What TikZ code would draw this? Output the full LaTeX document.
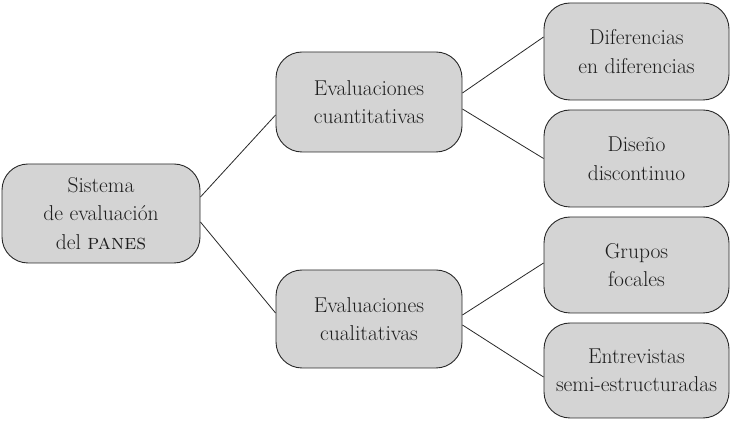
\documentclass[tikz,border=0pt]{standalone}
\usepackage{fontspec}
\usepackage{xcolor}
\definecolor{boxfill}{RGB}{212,212,212}
\definecolor{boxline}{RGB}{40,40,40}
\definecolor{txt}{RGB}{30,30,30}
\begin{document}
\begin{tikzpicture}[x=1pt,y=1pt,
  box/.style={draw=boxline, fill=boxfill, line width=0.9pt, rounded corners=26pt,
    align=center, inner sep=0pt, text=txt, font=\fontsize{21.5}{28.5}\selectfont},
  conn/.style={draw=boxline, line width=0.8pt}]
\useasboundingbox (0,0) rectangle (734,423);
\node[box, minimum width=198pt, minimum height=99pt] (b1) at (101,209.5) {Sistema\\de evaluación\\del \textsc{panes}};
\node[box, minimum width=186pt, minimum height=100pt] (b2) at (369,321) {Evaluaciones\\cuantitativas};
\node[box, minimum width=186pt, minimum height=98pt] (b3) at (369,104) {Evaluaciones\\cualitativas};
\node[box, minimum width=185pt, minimum height=97pt] (r1) at (636.5,371.5) {Diferencias\\en diferencias};
\node[box, minimum width=185pt, minimum height=97pt] (r2) at (636.5,264.5) {Diseño\\discontinuo};
\node[box, minimum width=185pt, minimum height=96pt] (r3) at (636.5,158) {Grupos\\focales};
\node[box, minimum width=185pt, minimum height=95pt] (r4) at (636.5,52.5) {Entrevistas\\semi-estructuradas};
\draw[conn] ([yshift=16.5pt]b1.east) -- ([yshift=-13pt]b2.west);
\draw[conn] ([yshift=-8.5pt]b1.east) -- ([yshift=6pt]b3.west);
\draw[conn] ([yshift=9pt]b2.east) -- ([yshift=14.5pt]r1.west);
\draw[conn] ([yshift=-7pt]b2.east) -- ([yshift=0pt]r2.west);
\draw[conn] ([yshift=4pt]b3.east) -- ([yshift=2pt]r3.west);
\draw[conn] ([yshift=-6pt]b3.east) -- ([yshift=-6.5pt]r4.west);
\end{tikzpicture}
\end{document}
